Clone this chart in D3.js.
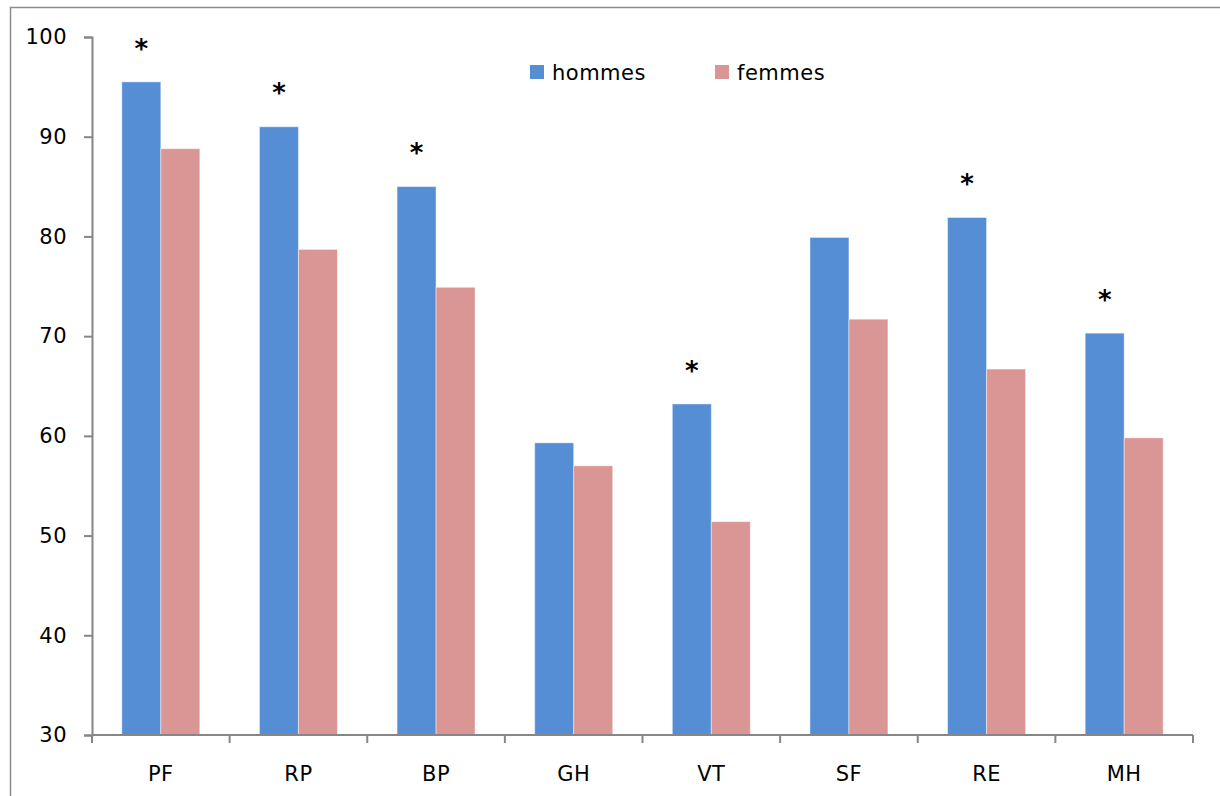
<!DOCTYPE html>
<html><head><meta charset="utf-8">
<script src="https://cdn.jsdelivr.net/npm/d3@7"></script>
<style>
html,body{margin:0;padding:0;background:#fff;}
text{font-family:"DejaVu Sans",sans-serif;fill:#000;}
</style></head>
<body>
<svg id="chart" width="1220" height="796"></svg>
<script>
const categories = ["PF","RP","BP","GH","VT","SF","RE","MH"];
const hommes = [95.5, 91.0, 85.0, 59.3, 63.2, 79.9, 81.9, 70.3];
const femmes = [88.8, 78.7, 74.9, 57.0, 51.4, 71.7, 66.7, 59.8];
const significant = [true, true, true, false, true, false, true, true];
const seriesNames = ["hommes","femmes"];
const colors = ["#558ED5","#D99694"];
const yTicks = [30,40,50,60,70,80,90,100];

const svg = d3.select("#chart");
// outer frame
svg.append("rect").attr("x",10.5).attr("y",7.5).attr("width",1230).attr("height",820)
  .attr("fill","none").attr("stroke","#8c8c8c").attr("stroke-width",1.5);

const x0 = 92, x1 = 1193, yTop = 37, yBot = 735;
const x = d3.scaleBand().domain(categories).range([x0,x1]).paddingInner(0).paddingOuter(0);
const y = d3.scaleLinear().domain([30,100]).range([yBot,yTop]);
const groupW = 78;
const xs = d3.scaleBand().domain(seriesNames).range([0,groupW]);

// bars
const data = categories.map((c,i)=>({c, vals:[hommes[i],femmes[i]], sig:significant[i]}));
const g = svg.append("g");
data.forEach(d=>{
  const gx = x(d.c) + (x.bandwidth()-groupW)/2;
  seriesNames.forEach((s,j)=>{
    g.append("rect")
      .attr("x", gx + xs(s))
      .attr("y", y(d.vals[j]))
      .attr("width", xs.bandwidth())
      .attr("height", y(30)-y(d.vals[j]))
      .attr("fill", colors[j])
      .attr("stroke","#ffffff").attr("stroke-opacity",0.45).attr("stroke-width",1);
  });
  if(d.sig){
    g.append("text")
      .attr("x", gx + xs("hommes") + xs.bandwidth()/2)
      .attr("y", y(d.vals[0]) - 43)
      .attr("dy","0.72em")
      .attr("text-anchor","middle")
      .style("font-size","26px").style("font-weight","bold")
      .text("*");
  }
});

const fs = "21px", ls = "0.5px";
// y axis
const yAxis = d3.axisLeft(y).tickValues(yTicks).tickSize(8).tickPadding(17);
const ya = svg.append("g").attr("transform",`translate(${x0},0)`).call(yAxis);
ya.select(".domain").attr("stroke","#868686").attr("stroke-width",2);
ya.selectAll(".tick line").attr("stroke","#868686").attr("stroke-width",2);
ya.selectAll(".tick text").style("font-size",fs).style("letter-spacing",ls).attr("fill","#000");

// x axis
const xAxis = d3.axisBottom(x).tickSize(0).tickPadding(31);
const xa = svg.append("g").attr("transform",`translate(0,${yBot})`).call(xAxis);
xa.select(".domain").remove();
xa.append("line").attr("x1",x0).attr("x2",x1).attr("y1",0).attr("y2",0)
  .attr("stroke","#868686").attr("stroke-width",2);
const bounds = categories.map(c=>x(c)).concat([x1]);
xa.selectAll(".sep").data(bounds).enter().append("line")
  .attr("x1",d=>d).attr("x2",d=>d).attr("y1",0).attr("y2",8)
  .attr("stroke","#868686").attr("stroke-width",2);
xa.selectAll(".tick text").style("font-size",fs).style("letter-spacing",ls).attr("fill","#000");

// legend
const legendX = [530, 715];
seriesNames.forEach((s,j)=>{
  svg.append("rect").attr("x",legendX[j]).attr("y",65).attr("width",14).attr("height",14).attr("fill",colors[j]);
  svg.append("text").attr("x",legendX[j]+22).attr("y",80)
    .style("font-size",fs).style("letter-spacing",ls).text(s);
});
</script>
</body></html>
